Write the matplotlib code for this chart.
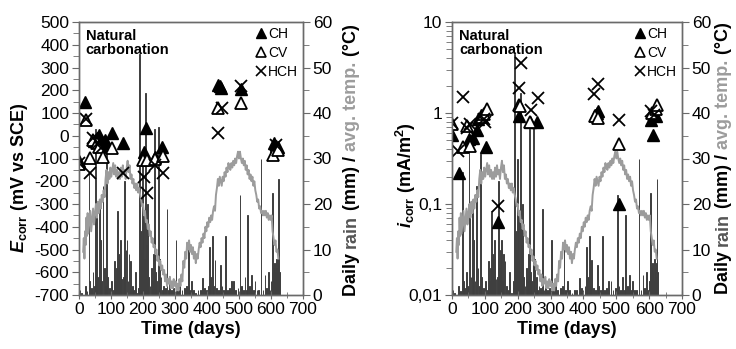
import matplotlib
matplotlib.use('Agg')
import matplotlib.pyplot as plt
import matplotlib.ticker as mticker
from matplotlib.lines import Line2D

plt.rcParams['font.family'] = ['Liberation Sans', 'DejaVu Sans']
plt.rcParams['axes.unicode_minus'] = False
plt.rcParams['mathtext.fontset'] = 'custom'
plt.rcParams['mathtext.rm'] = 'Liberation Sans:bold'
plt.rcParams['mathtext.it'] = 'Liberation Sans:italic:bold'
plt.rcParams['mathtext.bf'] = 'Liberation Sans:bold'

# ---------------- data ----------------
rain_day = [3, 8, 20, 25, 31, 34, 38, 44, 48, 52, 55, 58, 63, 66, 70, 75, 79, 83, 87, 90,
            95, 101, 108, 112, 115, 118, 121, 124, 126, 129, 131, 134, 138, 141, 144, 147,
            150, 153, 156, 161, 166, 171, 176, 182, 186, 188, 190, 193, 196, 199, 202, 204,
            206, 209, 212, 215, 218, 222, 226, 229, 233, 237, 240, 243, 248, 252, 256, 260,
            265, 270, 275, 280, 284, 290, 296, 303, 308, 315, 322, 330, 337, 341, 346, 352,
            358, 365, 372, 380, 387, 393, 399, 405, 409, 412, 418, 421, 425, 430, 437, 443,
            447, 452, 457, 463, 470, 477, 484, 490, 497, 503, 508, 513, 519, 524, 527, 533,
            540, 546, 550, 556, 562, 569, 575, 581, 587, 592, 597, 600, 603, 605, 607, 609,
            611, 612, 614, 616, 618, 620, 622, 624, 626]
rain_mm = [1.0, 0.5, 2.0, 0.8, 27, 3, 1.5, 5, 2, 36.5, 20, 4, 20, 12, 3, 24, 6, 2, 31, 4,
           1.5, 3, 1, 7.5, 3, 6, 18.5, 9, 8, 12, 5, 3.5, 4, 25, 6, 10,
           12, 3, 9, 7.5, 2, 1, 5, 0.5, 1.5, 3, 53, 14, 10, 30, 18, 8,
           5, 44.5, 11, 20, 4, 2, 6, 3, 9, 36.5, 5, 3, 37, 8, 4, 1,
           2, 1.5, 19, 1, 2.5, 1, 1.5, 12, 1, 2.6, 1, 1.5, 2, 12, 1, 3,
           1, 0.5, 1, 1, 3.7, 1.5, 1, 2, 10.6, 4, 13, 2, 7.7, 1.5, 1, 6.6,
           2, 1, 13, 1, 1.5, 3, 3, 1, 1.5, 22, 2, 1, 4, 1, 17.6, 2,
           4.5, 1, 3, 1, 1, 30, 1, 4.5, 1.5, 5, 1, 3, 5, 22.5, 6, 4,
           7, 5, 3, 8, 6, 4, 7, 25.5, 5]

temp_day = [13, 15, 17, 19, 21, 23, 25, 27, 29, 32, 35, 38, 41, 44, 47, 50, 53, 56, 59, 62,
            65, 68, 71, 74, 77, 80, 83, 86, 89, 92, 95, 98, 101, 104, 107, 110, 113, 116, 119,
            122, 125, 128, 131, 134, 137, 140, 143, 146, 149, 152, 155, 158, 161, 164, 167,
            170, 173, 176, 179, 182, 185, 188, 191, 194, 197, 200, 203, 206, 209, 212, 215,
            218, 221, 224, 227, 230, 233, 236, 239, 242, 245, 248, 251, 254, 257, 260, 263,
            266, 269, 272, 275, 278, 281, 284, 287, 290, 293, 296, 299, 302, 305, 308, 311,
            314, 317, 320, 323, 326, 329, 332, 335, 338, 341, 344, 347, 350, 353, 356, 359,
            362, 365, 368, 371, 374, 377, 380, 383, 386, 389, 392, 395, 398, 401, 404, 407,
            410, 413, 416, 419, 422, 425, 428, 431, 434, 437, 440, 443, 446, 449, 452, 455,
            458, 461, 464, 467, 470, 473, 476, 479, 482, 485, 488, 491, 494, 497, 500, 503,
            506, 509, 512, 515, 518, 521, 524, 527, 530, 533, 536, 539, 542, 545, 548, 551,
            554, 557, 560, 563, 566, 569, 572, 575, 578, 581, 584, 587, 590, 593, 596, 599,
            602, 605, 608, 611, 614, 617, 620, 623]
temp_c = [9.5, 12.5, 8, 14, 11, 17, 13, 18, 13.5, 16, 18.5, 14, 16.5, 19, 15.5, 18, 20, 17, 20.5, 18,
          21, 19, 22, 20.5, 23, 21.5, 25.5, 27.5, 24.5, 27, 25.5, 28, 26, 27.5, 29, 26.5, 28.5, 26, 27.5,
          25.5, 27, 25.5, 28, 26, 28.5, 26.5, 27.5, 25.5, 28, 29.5, 27, 28.5, 25.5, 26.5, 24.5,
          25.5, 23.5, 24.5, 23, 24.5, 22.5, 23.5, 22, 21, 19.5, 20, 17.5, 18.5, 16, 16.5, 14.5,
          15.5, 13, 14, 11.5, 12.5, 10.5, 11, 9, 10, 7.5, 8.5, 6.5, 7.5, 5.5, 6.5, 4.5,
          5.5, 3, 4.5, 2, 3.5, 2.5, 4, 1.5, 3, 1.5, 3.5, 2, 3, 1, 2.5, 1,
          3.5, 2, 4.5, 3, 7.5, 6, 9.5, 8, 11.5, 10, 12, 9.5, 11, 9, 10.5, 8,
          9.5, 7, 9, 8, 10, 11.5, 10.5, 12.5, 11.5, 13.5, 12.5, 15, 14, 16, 15, 17,
          16, 17.5, 16.5, 18.5, 19.5, 18.5, 22, 23.5, 25.5, 24, 26, 25, 24, 26, 25, 27,
          26, 28, 27, 29, 28, 27.5, 29, 28, 29.5, 28.5, 30, 29, 30.5, 31.5, 30, 31.5,
          30, 29, 30, 28.5, 29.5, 27.5, 28.5, 26.5, 27.5, 25.5, 26.5, 25, 26, 24, 25, 23,
          22, 20.5, 21, 19, 19.5, 18, 18.5, 17.5, 18.5, 17.5, 18.5, 17, 18, 16.5, 17.5, 16.5,
          17.5, 14, 12.5, 11, 12, 9.5, 10, 8]

# Ecorr (mV vs SCE)
ecorr_ch_day = [0, 20, 48, 57, 63, 74, 80, 86, 102, 139, 203, 210, 237, 260, 435, 440, 445, 507, 610, 617, 623]
ecorr_ch = [-112, 150, -25, -10, 3, -34, -20, -45, 10, -30, -70, 35, -92, -48, 225, 218, 210, 204, -33, -45, -50]
ecorr_cv_day = [0, 21, 34, 43, 55, 62, 76, 102, 201, 212, 237, 261, 433, 507, 605, 622]
ecorr_cv = [-125, 68, -99, -19, -34, -50, -92, -55, -107, -107, -103, -89, 121, 143, -85, -63]
ecorr_hch_day = [0, 21, 34, 43, 60, 70, 139, 203, 211, 237, 261, 433, 446, 507, 617]
ecorr_hch = [-120, 75, -165, -12, -34, -55, -162, -180, -250, -128, -165, 11, 121, 218, -41]

# icorr (mA/m2)
icorr_ch_day = [0, 20, 52, 63, 75, 80, 87, 102, 139, 203, 237, 260, 435, 440, 445, 507, 607, 613, 620]
icorr_ch = [0.57, 0.22, 0.52, 0.53, 0.65, 0.87, 0.95, 0.42, 0.063, 0.93, 0.8, 0.8, 0.95, 1.0, 1.05, 0.10, 0.84, 0.57, 0.92]
icorr_cv_day = [0, 34, 45, 55, 90, 97, 106, 203, 207, 237, 435, 445, 507, 610, 620, 625]
icorr_cv = [0.75, 0.42, 0.72, 0.43, 0.9, 0.98, 1.1, 1.22, 1.18, 0.8, 0.92, 0.88, 0.46, 1.0, 1.1, 1.22]
icorr_hch_day = [0, 18, 34, 45, 55, 97, 100, 139, 203, 210, 240, 262, 432, 445, 507, 605, 615]
icorr_hch = [0.77, 0.38, 1.5, 0.68, 0.75, 0.85, 0.8, 0.095, 1.87, 3.5, 1.08, 1.48, 1.6, 2.1, 0.84, 1.05, 0.95]

series_labels = ['CH', 'CV', 'HCH']
x_ticks = [0, 100, 200, 300, 400, 500, 600, 700]
ecorr_ticks = [-700, -600, -500, -400, -300, -200, -100, 0, 100, 200, 300, 400, 500]
icorr_ticks = [0.01, 0.1, 1, 10]
icorr_ticklabels = ['0,01', '0,1', '1', '10']
right_ticks = [0, 10, 20, 30, 40, 50, 60]

# ---------------- style ----------------
W, H = 736, 349
RAIN_C = '#3f3f3f'
TEMP_C = '#9c9c9c'
SPINE_C = '#6a6a6a'
TICK_FS = 12.5
LAB_FS = 13

fig = plt.figure(figsize=(W / 100, H / 100), dpi=100)


def px_rect(x0, x1, y0, y1):
    return [x0 / W, 1 - y1 / H, (x1 - x0) / W, (y1 - y0) / H]


def panel(rect, ch, cv, hch, logy):
    ax = fig.add_axes(rect)
    ax2 = ax.twinx()
    ax2.bar(rain_day, rain_mm, width=2.4, color=RAIN_C, edgecolor=RAIN_C, linewidth=0.7)
    ax2.plot(temp_day, temp_c, color=TEMP_C, lw=1.4)
    ax2.set_ylim(0, 60)
    ax2.set_yticks(right_ticks)
    ax2.yaxis.set_minor_locator(mticker.MultipleLocator(5))
    ax2.tick_params(axis='y', which='both', direction='out', colors=SPINE_C,
                    labelcolor='black', labelsize=TICK_FS, pad=2)
    ax2.tick_params(axis='y', which='major', length=5)
    ax2.tick_params(axis='y', which='minor', length=4)

    ax.set_zorder(ax2.get_zorder() + 1)
    ax.patch.set_visible(False)
    ms = 8
    ax.plot(ch[0], ch[1], ls='none', marker='^', ms=ms, color='black', mec='black')
    ax.plot(cv[0], cv[1], ls='none', marker='^', ms=ms, mfc='white', mec='black', mew=1.3)
    ax.plot(hch[0], hch[1], ls='none', marker='x', ms=ms, color='black', mew=1.3)

    ax.set_xlim(0, 700)
    ax.set_xticks(x_ticks)
    ax.xaxis.set_minor_locator(mticker.MultipleLocator(50))
    ax.tick_params(axis='x', which='both', direction='inout', colors=SPINE_C,
                   labelcolor='black', labelsize=TICK_FS, pad=2)
    ax.tick_params(axis='x', which='major', length=6)
    ax.tick_params(axis='x', which='minor', length=5)
    ax.tick_params(axis='y', which='both', direction='out', colors=SPINE_C,
                   labelcolor='black', labelsize=TICK_FS, pad=2)
    ax.tick_params(axis='y', which='major', length=5)
    ax.tick_params(axis='y', which='minor', length=4)
    if logy:
        ax.set_yscale('log')
        ax.set_ylim(0.01, 10)
        ax.set_yticks(icorr_ticks)
        ax.set_yticklabels(icorr_ticklabels)
        ax.yaxis.set_minor_locator(mticker.LogLocator(base=10, subs=range(2, 10)))
        ax.yaxis.set_minor_formatter(mticker.NullFormatter())
    else:
        ax.set_ylim(-700, 500)
        ax.set_yticks(ecorr_ticks)
        ax.yaxis.set_minor_locator(mticker.MultipleLocator(50))

    for a in (ax, ax2):
        for s in a.spines.values():
            s.set_color(SPINE_C)
            s.set_linewidth(1.0)

    ax.set_xlabel('Time (days)', fontsize=LAB_FS, fontweight='bold', labelpad=3)
    ax.text(0.03, 0.975, 'Natural\ncarbonation', transform=ax.transAxes, ha='left', va='top',
            fontsize=10.5, fontweight='bold', linespacing=1.05)
    handles = [Line2D([], [], ls='none', marker='^', ms=6.5, color='black'),
               Line2D([], [], ls='none', marker='^', ms=6.5, mfc='white', mec='black', mew=1.2),
               Line2D([], [], ls='none', marker='x', ms=6.5, color='black', mew=1.2)]
    ax.legend(handles, series_labels, loc='upper right', frameon=False, fontsize=10,
              handlelength=0.6, handletextpad=0.25, labelspacing=0.35, borderaxespad=0.15,
              borderpad=0.2)
    return ax, ax2


axL, axL2 = panel(px_rect(79, 303, 22, 295),
                  (ecorr_ch_day, ecorr_ch), (ecorr_cv_day, ecorr_cv), (ecorr_hch_day, ecorr_hch), False)
axR, axR2 = panel(px_rect(452, 682, 22, 295),
                  (icorr_ch_day, icorr_ch), (icorr_cv_day, icorr_cv), (icorr_hch_day, icorr_hch), True)

axL.set_ylabel(r'$\mathit{E}_{\mathrm{corr}}$ (mV vs SCE)', fontsize=LAB_FS, fontweight='bold')
axL.yaxis.set_label_coords(-0.22, 0.43)
axR.set_ylabel(r'$\mathit{i}_{\mathrm{corr}}$ (mA/m$^{2}$)', fontsize=LAB_FS, fontweight='bold')
axR.yaxis.set_label_coords(-0.148, 0.44)

# multi-coloured secondary axis title
fig.canvas.draw()
renderer = fig.canvas.get_renderer()
pieces = [('Daily ', 'black'), ('rain', '#555555'), (' (mm) / ', 'black'),
          ('avg. temp.', TEMP_C), (' (°C)', 'black')]
kw = dict(fontsize=LAB_FS, fontweight='bold')


def text_w(s):
    t = fig.text(0, 0, s + 'x', **kw)
    w1 = t.get_window_extent(renderer).width
    t.remove()
    t = fig.text(0, 0, 'x', **kw)
    w2 = t.get_window_extent(renderer).width
    t.remove()
    return w1 - w2


full = ''.join(p for p, _ in pieces)
total = text_w(full)
for base_x, yc in ((356, 160), (728, 158)):
    y_start = (H - yc) - total / 2
    prefix = ''
    for p, c in pieces:
        y = y_start + (text_w(prefix) if prefix else 0)
        fig.text(base_x / W, y / H, p, rotation=90, rotation_mode='anchor', ha='left',
                 va='baseline', color=c, **kw)
        prefix += p

fig.savefig('out.png', dpi=100)
